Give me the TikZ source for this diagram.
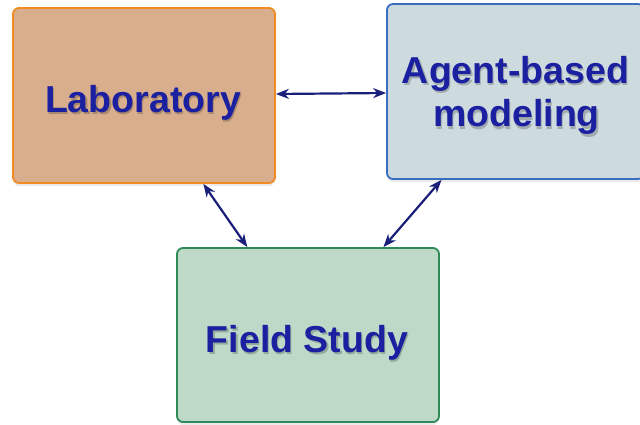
\documentclass[tikz,border=0pt]{standalone}
\usepackage{fontspec}
\setmainfont{Liberation Sans}
\usetikzlibrary{calc,arrows.meta,shadows}
\definecolor{labfill}{HTML}{D8AE8C}
\definecolor{labline}{HTML}{F28A22}
\definecolor{abmfill}{HTML}{CEDBDE}
\definecolor{abmline}{HTML}{3A6CC0}
\definecolor{fldfill}{HTML}{BFD9C8}
\definecolor{fldline}{HTML}{2E8A57}
\definecolor{ink}{HTML}{1A20A0}
\definecolor{arrowink}{HTML}{1A1F7A}
% caption text with a soft darker copy set just below and to the right
\newcommand\shadedcaption[2]{\leavevmode
  \rlap{\kern1.2pt\raisebox{-2.2pt}{\color{#1!78!black}#2}}%
  #2}
\begin{document}
\begin{tikzpicture}[x=1pt,y=-1pt,
  panel/.style={rectangle, rounded corners=6pt, line width=1.8pt,
    inner sep=0pt, minimum width=262pt, minimum height=175pt,
    drop shadow={opacity=0.16, shadow xshift=0pt, shadow yshift=-3pt}},
  caption/.style={font=\fontsize{37.5}{41}\selectfont\bfseries, text=ink,
    inner sep=0pt, anchor=base},
  link/.style={draw=arrowink, line width=2.2pt,
    {Stealth[length=13pt,width=10pt]}-{Stealth[length=13pt,width=10pt]}}]
  \useasboundingbox (0,0) rectangle (640,425);

  % boxes
  \node[panel, fill=labfill, draw=labline] (lab) at (144,95.5) {};
  \node[panel, fill=abmfill, draw=abmline, minimum width=257pt] (abm) at (515.5,91.5) {};
  \node[panel, fill=fldfill, draw=fldline, minimum height=174pt] (fld) at (308,335) {};

  % captions
  \node[caption] (labT) at ($(lab.center)+(-1,17.2)$) {\shadedcaption{labfill}{Laboratory}};
  \node[caption] (abmT1) at (515.5,83.8) {\shadedcaption{abmfill}{Agent-based}};
  \node[caption] (abmT2) at (516.5,127) {\shadedcaption{abmfill}{modeling}};
  \node[caption] (fldT) at ($(fld.center)+(-1,17)$) {\shadedcaption{fldfill}{Field Study}};

  % connectors
  \coordinate (labE) at ([yshift=1.5pt]lab.east);
  \coordinate (abmW) at ([yshift=-1.5pt]abm.west);
  \coordinate (labS1) at ($(lab.south west)!0.725!(lab.south east)$);
  \coordinate (fldN1) at ($(fld.north west)!0.27!(fld.north east)$);
  \coordinate (abmS0) at ($(abm.south west)!0.214!(abm.south east)$);
  \coordinate (fldN2) at ($(fld.north west)!0.786!(fld.north east)$);

  \draw[link] (labE) -- (abmW);
  \draw[link] (labS1) -- (fldN1);
  \draw[link] (abmS0) -- (fldN2);
\end{tikzpicture}
\end{document}
